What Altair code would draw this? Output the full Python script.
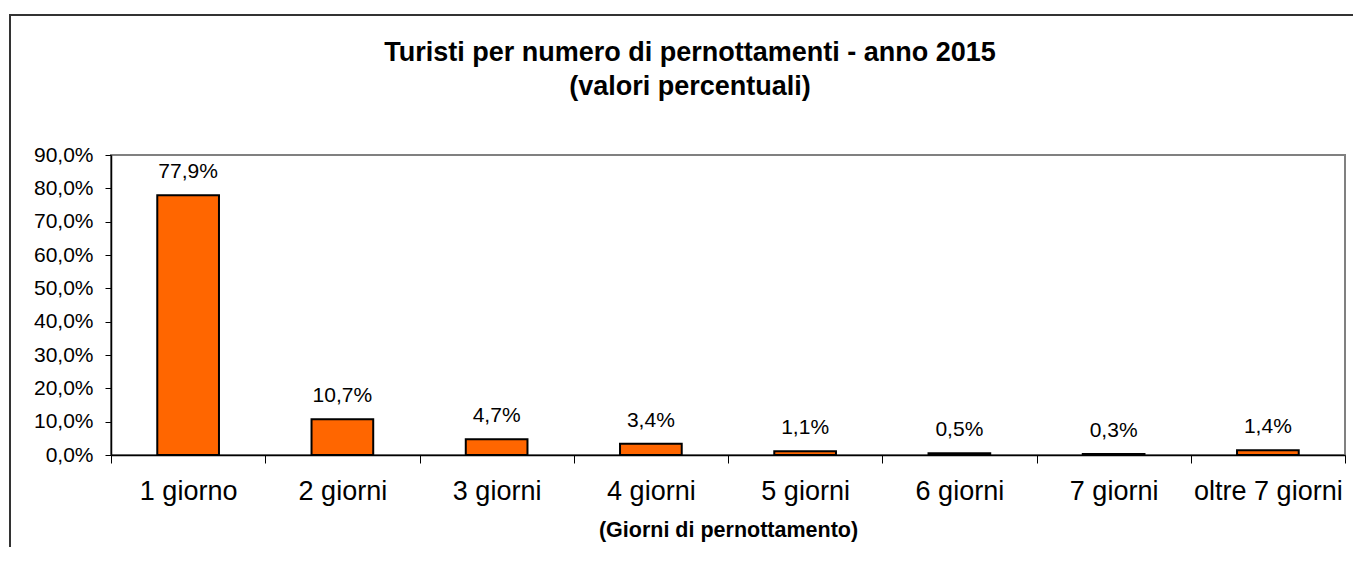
import altair as alt
import pandas as pd

categories = ["1 giorno", "2 giorni", "3 giorni", "4 giorni", "5 giorni", "6 giorni", "7 giorni", "oltre 7 giorni"]
values = [77.9, 10.7, 4.7, 3.4, 1.1, 0.5, 0.3, 1.4]
y_ticks = [0, 10, 20, 30, 40, 50, 60, 70, 80, 90]
title_lines = ["Turisti per numero di pernottamenti - anno 2015", "(valori percentuali)"]
x_title = "(Giorni di pernottamento)"

df = pd.DataFrame({"cat": categories, "v": values})
FONT = "Liberation Sans"

base = alt.Chart(df).transform_calculate(
    lab="replace(format(datum.v, '.1f'), '.', ',') + '%'"
)

x_enc = alt.X(
    "cat:N", sort=categories, title=x_title,
    scale=alt.Scale(paddingInner=0, paddingOuter=0),
    axis=alt.Axis(
        tickBand="extent", labelAngle=0, labelFontSize=27, labelFont=FONT, labelColor="black",
        labelPadding=15, tickSize=8, tickColor="black", domainColor="black", domainWidth=1.5,
        titleFont=FONT, titleFontSize=21.5, titleFontWeight="bold", titleColor="black", titlePadding=15,
    ),
)
y_enc = alt.Y(
    "v:Q", title=None,
    scale=alt.Scale(domain=[0, 90], nice=False, zero=True),
    axis=alt.Axis(
        values=y_ticks, tickCount=10, grid=False, labelFontSize=21, labelFont=FONT, labelColor="black",
        labelExpr="replace(format(datum.value, '.1f'), '.', ',') + '%'", labelOverlap=False,
        tickSize=6, tickColor="black", domainColor="black", domainWidth=1.5, labelPadding=12,
    ),
)

bars = base.mark_bar(
    width=alt.RelativeBandSize(0.4), color="#FF6600", stroke="black", strokeWidth=2
).encode(x=x_enc, y=y_enc)

labels = base.mark_text(
    fontSize=21, font=FONT, color="black", baseline="alphabetic", dy=-17
).encode(x=x_enc, y=y_enc, text="lab:N")

border_data = alt.Data(values=[{"k": 1}])
vline = alt.Chart(border_data).mark_rule(color="#333333", strokeWidth=2).encode(
    x=alt.value(-101), y=alt.value(-140), y2=alt.value(420)
)
hline = alt.Chart(border_data).mark_rule(color="#333333", strokeWidth=2).encode(
    x=alt.value(-102), x2=alt.value(1300), y=alt.value(-140)
)

chart = alt.layer(bars, labels, vline, hline).properties(
    width=1234, height=300,
    title=alt.TitleParams(
        text=title_lines, fontSize=27, fontWeight="bold", font=FONT, color="black",
        lineHeight=34, anchor="middle", offset=-87, dx=-38,
    ),
    autosize=alt.AutoSizeParams(type="none"),
    padding={"left": 103, "top": 147, "right": 8, "bottom": 92},
).configure_view(stroke="#808080", strokeWidth=2)

chart.save("out.html", embed_options={"renderer": "svg", "actions": False})
